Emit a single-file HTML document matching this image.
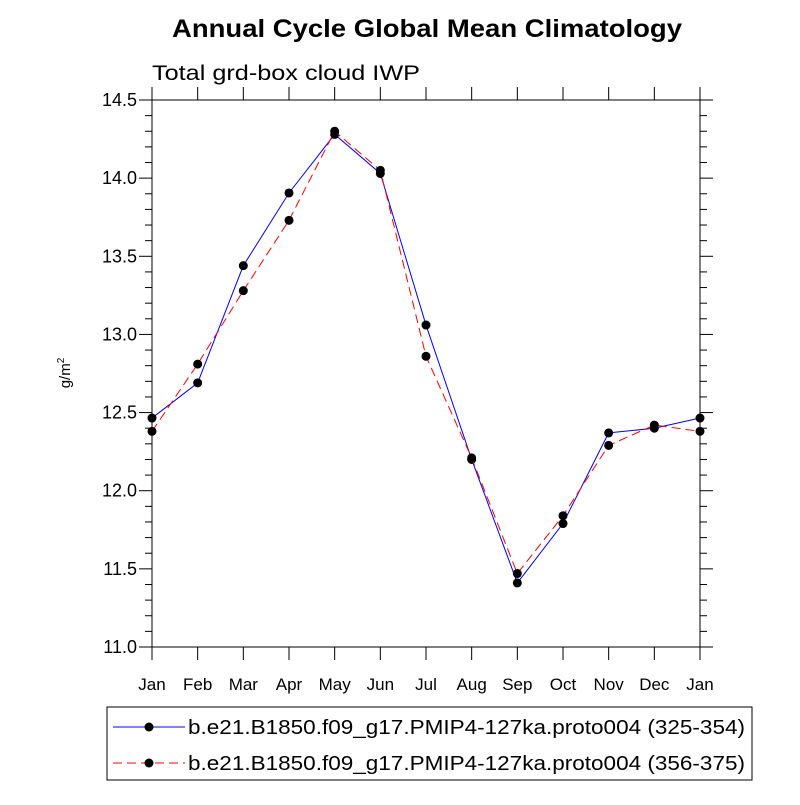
<!DOCTYPE html>
<html><head><meta charset="utf-8"><style>
body{margin:0;background:#fff}
svg text{font-family:"Liberation Sans",Arial,sans-serif}
</style></head><body>
<svg id="chart" width="800" height="800" viewBox="0 0 800 800">
<text x="172" y="37" font-size="25" font-weight="bold" textLength="510" lengthAdjust="spacingAndGlyphs">Annual Cycle Global Mean Climatology</text>
<text x="152" y="80" font-size="21" textLength="268" lengthAdjust="spacingAndGlyphs">Total grd-box cloud IWP</text>
<text transform="translate(70,373) rotate(-90)" font-size="15" text-anchor="middle">g/m<tspan dy="-6" font-size="10">2</tspan></text>
<g id="axes"></g>
<g id="series"></g>
<rect x="107" y="707" width="645" height="73" fill="none" stroke="#000" stroke-width="1"/>
<g>
<line x1="113" y1="727" x2="185" y2="727" stroke="#0000ff" stroke-width="1"/>
<circle cx="149" cy="727" r="4.5" fill="#000"/>
<text x="188" y="734" font-size="20" textLength="557" lengthAdjust="spacingAndGlyphs">b.e21.B1850.f09_g17.PMIP4-127ka.proto004 (325-354)</text>
</g>
<g>
<line x1="113" y1="763" x2="185" y2="763" stroke="#ff0000" stroke-width="1" stroke-dasharray="9,5"/>
<circle cx="149" cy="763" r="4.5" fill="#000"/>
<text x="188" y="770" font-size="20" textLength="557" lengthAdjust="spacingAndGlyphs">b.e21.B1850.f09_g17.PMIP4-127ka.proto004 (356-375)</text>
</g>
</svg>
<script>
const months=["Jan","Feb","Mar","Apr","May","Jun","Jul","Aug","Sep","Oct","Nov","Dec","Jan"];
const seriesA=[12.465,12.69,13.44,13.905,14.28,14.03,13.06,12.20,11.41,11.79,12.37,12.40,12.465];
const seriesB=[12.38,12.81,13.28,13.73,14.30,14.05,12.86,12.21,11.47,11.84,12.29,12.42,12.38];
const yTicks=[11.0,11.5,12.0,12.5,13.0,13.5,14.0,14.5];
const X0=152,X1=700,Y0=647,Y1=100,YMIN=11,YMAX=14.5;
const ns="http://www.w3.org/2000/svg";
function xs(i){return X0+(X1-X0)*i/(months.length-1);}
function ys(v){return Y0-(Y0-Y1)*(v-YMIN)/(YMAX-YMIN);}
function mk(tag,attrs,parent){const e=document.createElementNS(ns,tag);for(const k in attrs)e.setAttribute(k,attrs[k]);parent.appendChild(e);return e;}
const ax=document.getElementById('axes');
const frame=mk('rect',{x:X0,y:Y1,width:X1-X0,height:Y0-Y1,fill:'none',stroke:'#000','stroke-width':1},ax);


for(let v=YMIN;v<=YMAX+1e-6;v+=0.1){
  const y=ys(v);const major=Math.abs(v*2-Math.round(v*2))<1e-6;const len=major?13:7;
  mk('line',{x1:X0-len,y1:y,x2:X0,y2:y,stroke:'#000'},ax);
  mk('line',{x1:X1,y1:y,x2:X1+len,y2:y,stroke:'#000'},ax);
}
yTicks.forEach(v=>{
  const t=mk('text',{x:X0-15,y:ys(v)+6,'font-size':18,'text-anchor':'end'},ax);
  t.textContent=v.toFixed(1);
  
  
});
months.forEach((m,i)=>{
  const x=xs(i);
  mk('line',{x1:x,y1:Y0,x2:x,y2:Y0+13,stroke:'#000'},ax);
  mk('line',{x1:x,y1:Y1-13,x2:x,y2:Y1,stroke:'#000'},ax);
  const t=mk('text',{x:x,y:Y0+43,'font-size':17,'text-anchor':'middle'},ax);
  t.textContent=m;
  
  
});
const sg=document.getElementById('series');
function draw(vals,color,dash,name){
  const g=mk('g',{},sg);
  
  
  const pts=vals.map((v,i)=>xs(i)+','+ys(v)).join(' ');
  const attrs={points:pts,fill:'none',stroke:color,'stroke-width':1};
  if(dash)attrs['stroke-dasharray']=dash;
  mk('polyline',attrs,g);
  vals.forEach((v,i)=>{
    const c=mk('circle',{cx:xs(i),cy:ys(v),r:4.5,fill:'#000'},g);
    
    
  });
}
draw(seriesA,'#0000ff',null,'series-325-354');
draw(seriesB,'#ff0000','9,5','series-356-375');
</script>
</body></html>
